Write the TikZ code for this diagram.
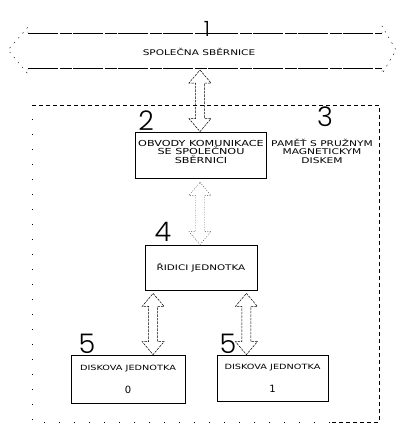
\documentclass[tikz,border=0pt]{standalone}
\usepackage{fontspec}
\usetikzlibrary{calc}
\newfontfamily\lbl[FakeStretch=1.35]{DejaVu Sans}
\newfontfamily\dig{DejaVu Sans}
\newfontfamily\num{Poppins}[UprightFont=* Light]
\newcommand\hollowarrow[3][harr]{%
  \draw[#1] let \p1=(#2), \p2=(#3) in
   (\x1,\y1) -- ++(11pt,-13pt) -- ++(-6.5pt,0pt) -- (\x1+4.5pt,\y2+13pt) -- ++(6.5pt,0pt)
   -- (\x1,\y2) -- ++(-11pt,13pt) -- ++(6.5pt,0pt) -- (\x1-4.5pt,\y1-13pt) -- ++(-6.5pt,0pt) -- cycle;}
\begin{document}
\begin{tikzpicture}[x=1pt,y=-1pt,
  box/.style={draw, line width=0.8pt, rectangle, inner sep=0pt, align=center,
    font=\lbl\fontsize{8.3}{8.6}\selectfont},
  txt/.style={inner sep=0pt, align=center, font=\lbl\fontsize{8.3}{8.6}\selectfont},
  numlbl/.style={inner sep=0pt, font=\num\fontsize{27}{27}\selectfont},
  harr/.style={line width=0.5pt, dash pattern=on 2.5pt off 1pt},
  harrlight/.style={line width=0.4pt, black!75, dash pattern=on 1pt off 1.5pt},
  frame/.style={line width=0.5pt, dash pattern=on 4pt off 3pt},
  framelight/.style={line width=0.5pt, dash pattern=on 1pt off 14pt},
  busline/.style={line width=0.6pt, dash pattern=on 30pt off 2pt on 12pt off 1pt},
  bushead/.style={line width=0.4pt, dash pattern=on 1.5pt off 5pt}
]
\useasboundingbox (0,0) rectangle (397,431);
% frame of unit 3
\draw[frame] (32,105) -- (379,105) -- (379,422) -- (330,422);
\draw[framelight] (330,422) -- (32,422) -- (32,105);
% common bus
\draw[busline] (28,33) -- (382,33);
\draw[busline] (28,68) -- (382,68);
\draw[bushead] (28,33) -- (28,27) -- (8,50) -- (28,74) -- (28,68);
\draw[bushead] (382,33) -- (382,26) -- (396,50) -- (382,74) -- (382,68);
\node[txt, font=\lbl\fontsize{7.8}{9}\selectfont] (bus) at (199,52) {SPOLEČNA SBĚRNICE};
\node[numlbl, font=\num\fontsize{21}{21}\selectfont] (n1) at (207,29) {1};
% boxes
\node[box, minimum width=131pt, minimum height=46pt] (box2) at (201,155)
  {OBVODY KOMUNIKACE\\SE SPOLEČNOU\\SBĚRNICI\\[-2pt]\mbox{}};
\node[txt, font=\lbl\fontsize{7.9}{8.6}\selectfont] (box3) at (322,151) {PAMĚŤ S PRUŽNYM\\MAGNETICKYM\\DISKEM};
\node[box, minimum width=112pt, minimum height=45pt, font=\lbl\fontsize{7.7}{8.6}\selectfont] (box4) at (201,267.5) {ŘIDICI JEDNOTKA};
\node[box, minimum width=114pt, minimum height=48pt, font=\lbl\fontsize{7.2}{8.6}\selectfont] (disk0) at (128,379)
  {DISKOVA JEDNOTKA\\[13pt]{\dig\fontsize{10}{10}\selectfont 0}};
\node[box, minimum width=111pt, minimum height=46pt, font=\lbl\fontsize{7.2}{8.6}\selectfont] (disk1) at (272.5,378)
  {DISKOVA JEDNOTKA\\[13pt]{\dig\fontsize{10}{10}\selectfont 1}};
% numbers
\node[numlbl] (n2) at (146,121) {2};
\node[numlbl] (n3) at (325,117) {3};
\node[numlbl] (n4) at (163,232) {4};
\node[numlbl] (n5a) at (87,344) {5};
\node[numlbl] (n5b) at (228,344) {5};
% block arrows
\coordinate (busS) at (200,70);
\hollowarrow{busS}{box2.north -| busS}
\coordinate (b2S) at ($(box2.south)+(-1,4)$);
\hollowarrow[harrlight]{b2S}{box4.north -| b2S}
\coordinate (b4L) at ($(box4.south west)+(8.5,3)$);
\coordinate (b4R) at ($(box4.south east)+(-11,3)$);
\hollowarrow{b4L}{disk0.north -| b4L}
\hollowarrow{b4R}{disk1.north -| b4R}
\end{tikzpicture}
\end{document}
